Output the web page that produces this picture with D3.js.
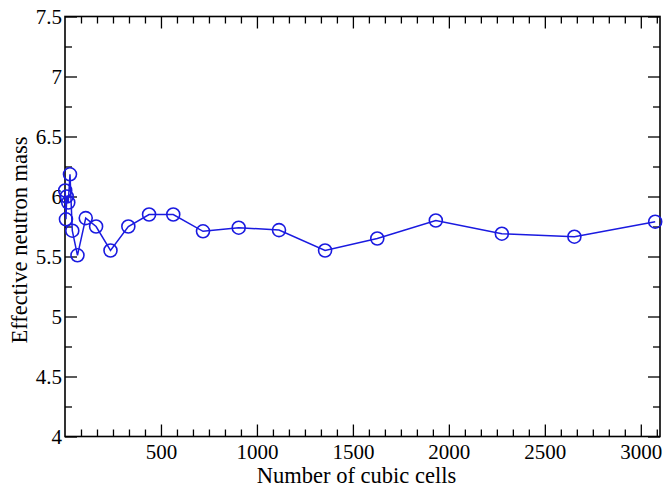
<!DOCTYPE html>
<html>
<head>
<meta charset="utf-8">
<script src="https://cdn.jsdelivr.net/npm/d3@7"></script>
<style>
  html, body { margin: 0; padding: 0; background: #fff; }
  svg { display: block; }
  text { font-family: "Liberation Serif", "Times New Roman", serif; fill: #000; }
</style>
</head>
<body>
<svg id="chart" width="663" height="490"></svg>
<script>
// Data
const cells = [1, 5, 9, 17, 26, 38, 65, 108, 162, 237, 330, 438, 564, 719, 905, 1115, 1355, 1627, 1932, 2276, 2654, 3075];
const mass  = [6.05, 5.81, 6.00, 5.95, 6.185, 5.715, 5.51, 5.82, 5.75, 5.55, 5.75, 5.85, 5.85, 5.71, 5.74, 5.72, 5.55, 5.65, 5.80, 5.69, 5.665, 5.79];
const xMajorTicks = [500, 1000, 1500, 2000, 2500, 3000];
const yMajorTicks = [4, 4.5, 5, 5.5, 6, 6.5, 7, 7.5];
const xTitle = "Number of cubic cells";
const yTitle = "Effective neutron mass";

const svg = d3.select("#chart");
const mL = 65, mR = 660, mT = 16.5, mB = 436.5;

const x = d3.scaleLinear().domain([0, 3100]).range([mL, mR]);
const y = d3.scaleLinear().domain([4, 7.5]).range([mB, mT]);

// 5 minor ticks between consecutive major x ticks, 1 between major y ticks
const xMinor = d3.range(0, 3100, 500 / 6).filter((v, i) => i % 6 !== 0);
const yMinor = d3.range(4.25, 7.5, 0.5);

const major = 12, minor = 7;
const fsTick = 21, fsTitle = 22.5;

function styleAxis(g) {
  g.select(".domain").remove();
  g.selectAll(".tick line").attr("stroke", "#000").attr("stroke-width", 1.3);
}

// Bottom axis (labels + major inward ticks)
svg.append("g").attr("transform", `translate(0,${mB})`)
  .call(d3.axisBottom(x).tickValues(xMajorTicks).tickSizeInner(-major).tickSizeOuter(0).tickPadding(0).tickFormat(d3.format("d")))
  .call(styleAxis)
  .call(g => g.selectAll("text").attr("y", 22).attr("dy", 0).style("font-size", fsTick + "px").style("font-family", "'Liberation Serif', serif"));
svg.append("g").attr("transform", `translate(0,${mB})`)
  .call(d3.axisBottom(x).tickValues(xMinor).tickSizeInner(-minor).tickSizeOuter(0).tickFormat(""))
  .call(styleAxis);
// Top axis
svg.append("g").attr("transform", `translate(0,${mT})`)
  .call(d3.axisTop(x).tickValues(xMajorTicks).tickSizeInner(-major).tickSizeOuter(0).tickFormat(""))
  .call(styleAxis);
svg.append("g").attr("transform", `translate(0,${mT})`)
  .call(d3.axisTop(x).tickValues(xMinor).tickSizeInner(-minor).tickSizeOuter(0).tickFormat(""))
  .call(styleAxis);
// Left axis
svg.append("g").attr("transform", `translate(${mL},0)`)
  .call(d3.axisLeft(y).tickValues(yMajorTicks).tickSizeInner(-major).tickSizeOuter(0).tickPadding(0).tickFormat(d => String(d)))
  .call(styleAxis)
  .call(g => g.selectAll("text").attr("x", -3).attr("dy", "0.35em").style("font-size", fsTick + "px").style("font-family", "'Liberation Serif', serif"));
svg.append("g").attr("transform", `translate(${mL},0)`)
  .call(d3.axisLeft(y).tickValues(yMinor).tickSizeInner(-minor).tickSizeOuter(0).tickFormat(""))
  .call(styleAxis);
// Right axis
svg.append("g").attr("transform", `translate(${mR},0)`)
  .call(d3.axisRight(y).tickValues(yMajorTicks).tickSizeInner(-major).tickSizeOuter(0).tickFormat(""))
  .call(styleAxis);
svg.append("g").attr("transform", `translate(${mR},0)`)
  .call(d3.axisRight(y).tickValues(yMinor).tickSizeInner(-minor).tickSizeOuter(0).tickFormat(""))
  .call(styleAxis);

// Frame
svg.append("rect")
  .attr("x", mL).attr("y", mT)
  .attr("width", mR - mL).attr("height", mB - mT)
  .attr("fill", "none").attr("stroke", "#000").attr("stroke-width", 1.6);

// Axis titles
svg.append("text")
  .attr("x", (mL + mR) / 2 - 6).attr("y", 483)
  .attr("text-anchor", "middle").style("font-size", fsTitle + "px")
  .text(xTitle);
svg.append("text")
  .attr("transform", `translate(27,240) rotate(-90)`)
  .attr("text-anchor", "middle").style("font-size", fsTitle + "px")
  .text(yTitle);

// Series
const pts = cells.map((c, i) => ({ c, m: mass[i] }));
const blue = "#1a1ae0";
svg.append("path")
  .datum(pts)
  .attr("fill", "none").attr("stroke", blue).attr("stroke-width", 1.5)
  .attr("d", d3.line().x(d => x(d.c)).y(d => y(d.m)));
svg.append("g").selectAll("circle").data(pts).join("circle")
  .attr("cx", d => x(d.c)).attr("cy", d => y(d.m)).attr("r", 6.5)
  .attr("fill", "none").attr("stroke", blue).attr("stroke-width", 1.6);
</script>
</body>
</html>
